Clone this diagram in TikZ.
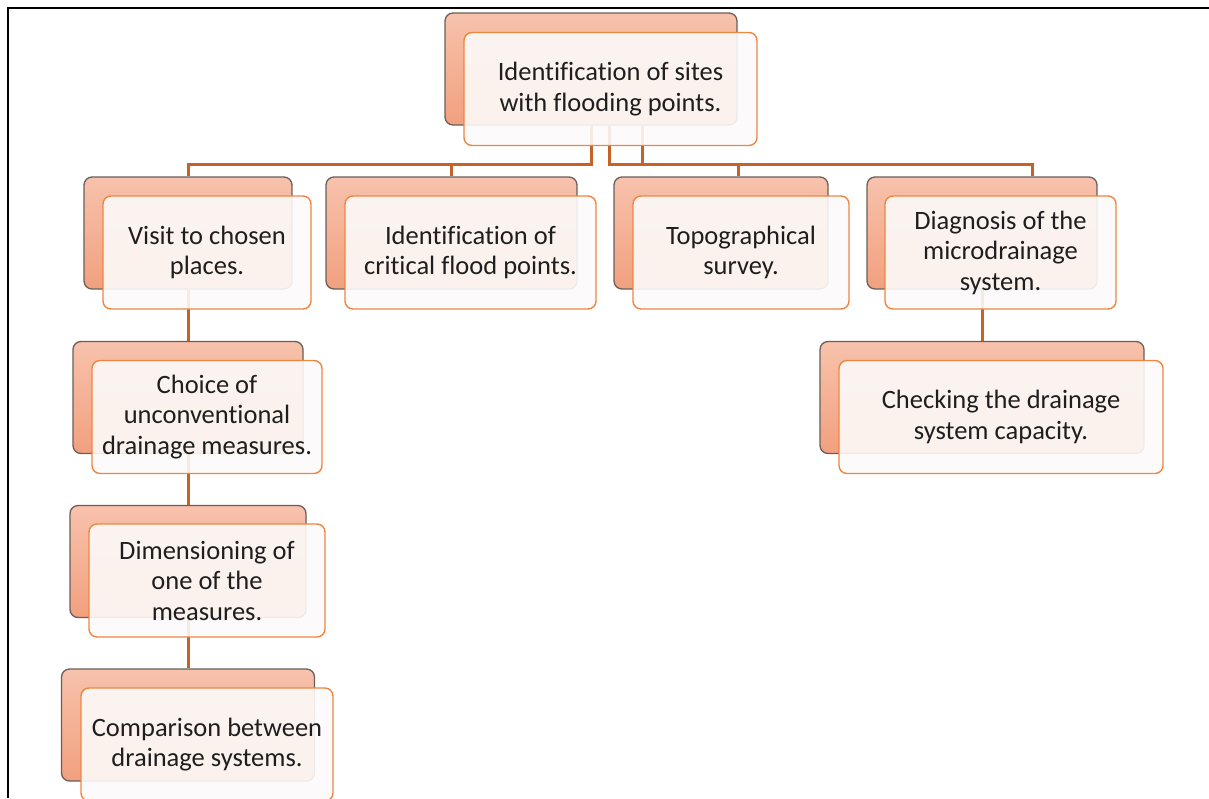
\documentclass[tikz,border=0pt]{standalone}
\usepackage{fontspec}
\setmainfont{Carlito}[Ligatures=NoCommon]
\usepackage{tikz}
\usetikzlibrary{positioning, calc}

\definecolor{salmontop}{RGB}{247,194,172}
\definecolor{salmonbot}{RGB}{242,160,126}
\definecolor{backline}{RGB}{105,95,90}
\definecolor{frontline}{RGB}{238,134,64}
\definecolor{frontfill}{RGB}{252,250,249}
\definecolor{linkcol}{RGB}{197,98,40}
\definecolor{txt}{RGB}{30,30,30}

\begin{document}
\begin{tikzpicture}[
  x=1pt, y=-1pt,
  font=\fontsize{26.5}{30.5}\selectfont,
  back/.style={draw=backline, line width=1.3pt, rounded corners=8pt,
    top color=salmontop, bottom color=salmonbot,
    minimum height=112pt, inner sep=0pt},
  front/.style={draw=frontline, line width=1.4pt, rounded corners=8pt,
    fill=frontfill, fill opacity=0.9, text opacity=1, text=txt,
    align=center, minimum height=113pt, inner sep=0pt},
  link/.style={draw=linkcol, line width=3pt},
]
  \useasboundingbox (0,0) rectangle (1209,798);
  \draw[line width=2.2pt] (8,798) -- (8,8) -- (1209,8);

  % back boxes
  \node[back, minimum width=292pt] (sites0) at (591,69)    {};
  \node[back, minimum width=208pt] (visit0) at (188,233)   {};
  \node[back, minimum width=251pt] (crit0)  at (451.5,233) {};
  \node[back, minimum width=214pt] (topo0)  at (721,233)   {};
  \node[back, minimum width=230pt] (diag0)  at (982,233)   {};
  \node[back, minimum width=324pt] (check0) at (982,397.5) {};
  \node[back, minimum width=230pt] (choice0) at (188,397.5) {};
  \node[back, minimum width=236pt] (dim0)   at (188,561.5) {};
  \node[back, minimum width=253pt] (comp0)  at (188,725)   {};

  % connectors
  \coordinate (bar) at (0,164);
  \draw[link] (sites0.south) -- (sites0.south |- bar) -| (visit0.north);
  \draw[link] (sites0.south) -- (sites0.south |- bar) -| (crit0.north);
  \draw[link] ([xshift=18pt]sites0.south) -- ([xshift=18pt]sites0.south |- bar)
    -| ([xshift=17pt]topo0.north);
  \draw[link] ([xshift=51pt]sites0.south) -- ([xshift=51pt]sites0.south |- bar)
    -| ([xshift=50pt]diag0.north);
  \draw[link] (visit0.south) -- (choice0.north);
  \draw[link] (choice0.south) -- (dim0.north);
  \draw[link] (dim0.south) -- (comp0.north);
  \draw[link] (diag0.south) -- (check0.north);

  % front boxes
  \node[front, minimum width=293pt] (sites) at ([shift={(19.5,20)}]sites0)
    {Identification of sites\\with flooding points.};
  \node[front, minimum width=208pt] (visit) at ([shift={(19,19.5)}]visit0)
    {Visit to chosen\\places.};
  \node[front, minimum width=251pt] (crit) at ([shift={(19,19.5)}]crit0)
    {Identification of\\critical flood points.};
  \node[front, minimum width=216pt] (topo) at ([shift={(20,19.5)}]topo0)
    {Topographical\\survey.};
  \node[front, minimum width=231pt] (diag) at ([shift={(18.5,19.5)}]diag0)
    {Diagnosis of the\\microdrainage\\system.};
  \node[front, minimum width=324pt] (check) at ([shift={(19,19.5)}]check0)
    {Checking the drainage\\system capacity.};
  \node[front, minimum width=230pt] (choice) at ([shift={(19,19.5)}]choice0)
    {Choice of\\unconventional\\drainage measures.};
  \node[front, minimum width=236pt] (dim) at ([shift={(19,19)}]dim0)
    {Dimensioning of\\one of the\\measures.};
  \node[front, minimum width=252pt] (comp) at ([shift={(19,19.5)}]comp0)
    {Comparison between\\drainage systems.};
\end{tikzpicture}
\end{document}
